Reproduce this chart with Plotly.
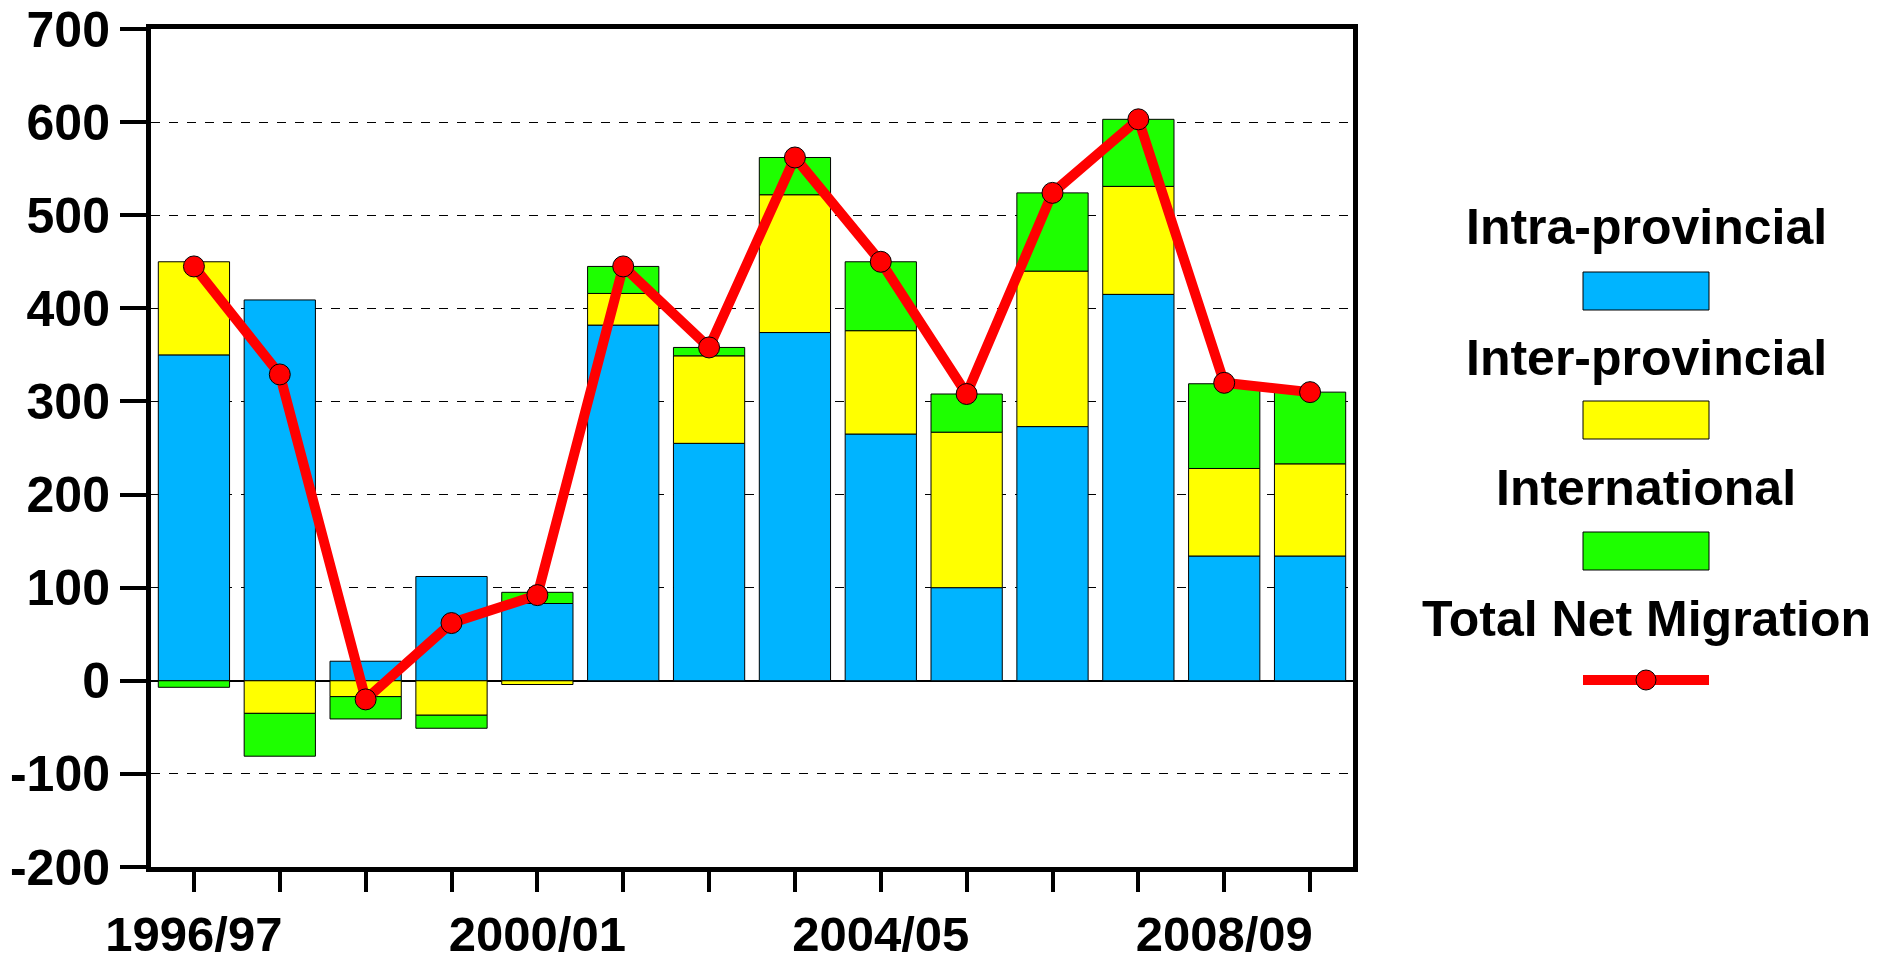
import plotly.graph_objects as go

# net migration components, thousands
years = ["1996/97", "1997/98", "1998/99", "1999/00", "2000/01", "2001/02", "2002/03",
         "2003/04", "2004/05", "2005/06", "2006/07", "2007/08", "2008/09", "2009/10"]
intra = [350, 409, 21, 112, 83, 382, 255, 374, 265, 100, 273, 415, 134, 134]
inter = [100, -35, -17, -37, -4, 34, 94, 148, 111, 167, 167, 116, 94, 99]
intl = [-7, -46, -24, -14, 12, 29, 9, 40, 74, 41, 84, 72, 91, 77]
total = [445, 329, -20, 62, 92, 445, 358, 562, 450, 308, 524, 603, 320, 310]

year_labels = ["1996/97", "2000/01", "2004/05", "2008/09"]
y_ticks = [-200, -100, 0, 100, 200, 300, 400, 500, 600, 700]

series = ["Intra-provincial", "Inter-provincial", "International"]
colors = ["#00B4FF", "#FFFF00", "#1EFF00"]
line_color = "#FF0000"

W, H = 1895, 963
L, R, T, B = 151, 1353, 29, 867
FONT = dict(family="Liberation Sans, Arial, sans-serif", color="black", weight="bold")


def px(x):
    return (x - L) / (R - L)


def py(y):
    return (B - y) / (B - T)


fig = go.Figure()
for name, vals, c in zip(series, [intra, inter, intl], colors):
    fig.add_trace(go.Bar(x=years, y=vals, name=name, marker_color=c,
                         marker_line=dict(color="black", width=1)))

fig.add_trace(go.Scatter(x=years, y=total, name="Total Net Migration", mode="lines+markers",
                         line=dict(color=line_color, width=10),
                         marker=dict(size=21, color=line_color, line=dict(color="black", width=1))))

fig.update_layout(
    width=W, height=H,
    margin=dict(l=L, r=W - R, t=T, b=H - B),
    barmode="relative",
    bargap=0.17,
    showlegend=False,
    plot_bgcolor="white",
    paper_bgcolor="white",
    font=FONT,
)

fig.update_xaxes(
    range=[-0.5, len(years) - 0.5],
    tickmode="array", tickvals=years,
    ticktext=[y if y in year_labels else "" for y in years],
    tickfont=dict(size=49, **FONT),
    ticks="outside", ticklen=20, tickwidth=4, tickcolor="black",
    showline=True, linewidth=5, linecolor="black", mirror=True,
    showgrid=False, automargin=False,
)
fig.update_yaxes(
    range=[-200, 700],
    tickmode="array", tickvals=y_ticks, ticktext=[str(v) for v in y_ticks],
    tickfont=dict(size=50, **FONT),
    ticks="outside", ticklen=26, tickwidth=4, tickcolor="black",
    showline=True, linewidth=5, linecolor="black", mirror=True,
    showgrid=True, gridcolor="black", gridwidth=1, griddash="dash",
    zeroline=True, zerolinecolor="black", zerolinewidth=2,
    automargin=False,
)

# legend drawn by hand: label above swatch, centred
leg_x = 1646
labels_y = [227, 358, 488, 619]
swatch_y = [291, 420, 551]
names = series + ["Total Net Migration"]
for name, yy in zip(names, labels_y):
    fig.add_annotation(x=px(leg_x), y=py(yy), xref="paper", yref="paper", text=name,
                       showarrow=False, xanchor="center", yanchor="middle",
                       font=dict(size=50, **FONT))
for c, yy in zip(colors, swatch_y):
    fig.add_shape(type="rect", xref="paper", yref="paper",
                  x0=px(leg_x - 63), x1=px(leg_x + 63), y0=py(yy - 19), y1=py(yy + 19),
                  fillcolor=c, line=dict(color="black", width=1))
fig.add_shape(type="line", xref="paper", yref="paper",
              x0=px(leg_x - 63), x1=px(leg_x + 63), y0=py(680), y1=py(680),
              line=dict(color=line_color, width=10))
fig.add_shape(type="circle", xref="paper", yref="paper",
              xsizemode="pixel", ysizemode="pixel",
              xanchor=px(leg_x), yanchor=py(680), x0=-10, x1=10, y0=-10, y1=10,
              fillcolor=line_color, line=dict(color="black", width=1))

fig.write_html("out.html", config={"displayModeBar": False},
               post_script="document.body.style.margin='0';")
